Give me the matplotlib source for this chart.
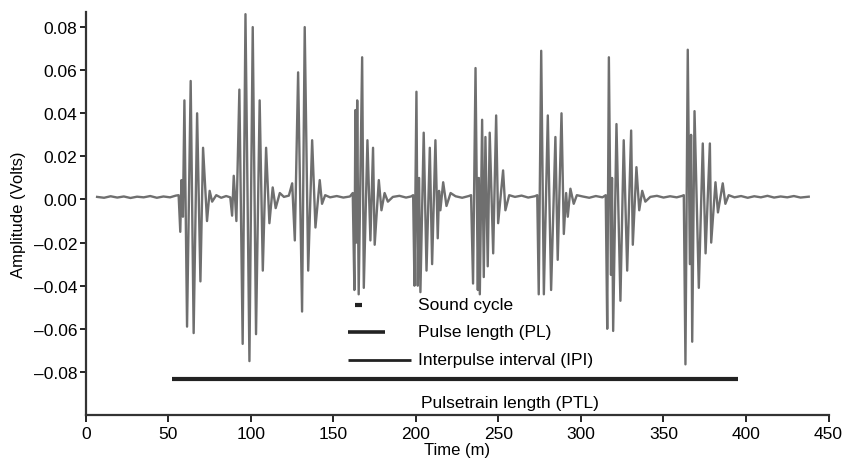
import matplotlib
matplotlib.use("Agg")
import matplotlib.pyplot as plt
from matplotlib.ticker import FuncFormatter

# extrema of each pulse: time (m), amplitude (V)
p1_t = [56.2, 57.2, 57.9, 58.8, 59.7, 61.3, 63.5, 65.3, 67.4, 69.4, 71.0, 73.4, 75.0, 76.5]
p1_v = [0.002, -0.015, 0.009, -0.008, 0.046, -0.059, 0.055, -0.062, 0.040, -0.038, 0.024, -0.010, 0.004, -0.001]

p2_t = [88.6, 89.6, 91.2, 93.0, 95.0, 96.7, 99.1, 101.1, 103.1, 105.3, 107.2, 109.2, 111.2, 113.2, 115.0, 117.5]
p2_v = [-0.0075, 0.011, -0.010, 0.051, -0.067, 0.086, -0.075, 0.080, -0.0625, 0.046, -0.033, 0.024, -0.011, 0.0056, -0.004, 0.003]

p3_t = [125.0, 126.6, 128.6, 131.0, 132.6, 134.7, 137.1, 139.1, 141.7, 143.1, 145.0]
p3_v = [0.0075, -0.019, 0.059, -0.052, 0.080, -0.033, 0.0275, -0.013, 0.009, -0.002, 0.002]

p4_t = [161.7, 162.7, 163.3, 163.9, 164.4, 165.3, 167.4, 168.4, 170.6, 172.4, 174.0, 175.0, 177.5, 179.1, 181.0, 183.0]
p4_v = [0.003, -0.042, 0.0415, -0.020, 0.046, -0.044, 0.066, -0.041, 0.0275, -0.019, 0.024, -0.021, 0.009, -0.005, 0.003, -0.001]

p5_t = [198.3, 199.1, 200.3, 201.1, 201.9, 202.7, 204.7, 206.4, 208.4, 209.8, 211.8, 213.2, 214.0, 214.8, 216.5, 218.5, 221.0]
p5_v = [0.002, -0.040, 0.050, -0.040, 0.010, -0.043, 0.031, -0.033, 0.024, -0.030, 0.0275, -0.018, 0.004, -0.005, 0.008, -0.003, 0.003]

p6_t = [233.4, 234.6, 236.1, 237.5, 238.1, 238.7, 240.1, 241.1, 242.1, 243.5, 244.7, 246.8, 248.6, 249.8, 252.8, 254.2, 256.5]
p6_v = [0.002, -0.039, 0.061, -0.042, 0.010, -0.044, 0.037, -0.036, 0.029, -0.031, 0.031, -0.025, 0.039, -0.011, 0.0135, -0.005, 0.002]

p7_t = [273.5, 274.4, 275.9, 277.5, 279.9, 281.9, 284.5, 285.9, 288.2, 289.6, 291.0, 292.0, 293.6, 295.6, 297.5]
p7_v = [0.002, -0.044, 0.069, -0.044, 0.039, -0.042, 0.029, -0.028, 0.040, -0.016, 0.003, -0.008, 0.005, -0.002, 0.002]

p8_t = [315.0, 315.9, 316.9, 318.2, 318.8, 319.5, 321.5, 323.9, 325.9, 328.0, 330.4, 331.4, 333.6, 335.3, 337.1, 339.0]
p8_v = [0.002, -0.060, 0.066, -0.035, 0.010, -0.061, 0.035, -0.047, 0.0275, -0.033, 0.032, -0.021, 0.015, -0.005, 0.004, -0.001]

p9_t = [362.3, 363.3, 364.7, 366.0, 366.7, 367.4, 368.8, 371.4, 373.8, 375.5, 378.1, 378.9, 381.5, 383.0, 385.9, 387.5, 389.5]
p9_v = [0.002, -0.0765, 0.0695, -0.030, 0.030, -0.066, 0.041, -0.041, 0.026, -0.025, 0.026, -0.020, 0.008, -0.006, 0.0075, -0.002, 0.002]

# quiet stretches between the pulses
quiet_t = [6.8, 11, 15, 19, 23, 27, 31, 35, 39, 43, 47, 51, 54.5,
           79, 82, 85, 87.5, 120, 123, 148, 152, 156, 160,
           186, 190, 194, 197, 224, 228, 232, 260, 264, 268, 272,
           301, 305, 309, 313, 342, 346, 350, 354, 358, 361,
           393, 397, 401, 405, 409, 413, 417, 421, 425, 429, 433, 438]
quiet_v = [0.0012, 0.0008, 0.0015, 0.0009, 0.0014, 0.0007, 0.0013, 0.0010, 0.0016, 0.0008, 0.0014, 0.0010, 0.0018,
           0.0020, 0.0008, 0.0016, 0.0010, 0.0012, 0.0018, 0.0010, 0.0016, 0.0009, 0.0014,
           0.0012, 0.0017, 0.0009, 0.0014, 0.0015, 0.0008, 0.0016, 0.0012, 0.0018, 0.0009, 0.0015,
           0.0014, 0.0008, 0.0016, 0.0010, 0.0012, 0.0017, 0.0009, 0.0015, 0.0010, 0.0016,
           0.0010, 0.0016, 0.0008, 0.0015, 0.0010, 0.0017, 0.0009, 0.0014, 0.0010, 0.0016, 0.0009, 0.0013]

# annotation bars
bar_labels = ["Sound cycle", "Pulse length (PL)", "Interpulse interval (IPI)", "Pulsetrain length (PTL)"]
bar_start = [163.3, 159.0, 159.0, 52.0]
bar_end = [167.6, 181.5, 196.7, 395.0]
bar_level = [-0.0488, -0.0613, -0.0743, -0.0831]

pairs = []
for tt, vv in [(p1_t, p1_v), (p2_t, p2_v), (p3_t, p3_v), (p4_t, p4_v), (p5_t, p5_v),
               (p6_t, p6_v), (p7_t, p7_v), (p8_t, p8_v), (p9_t, p9_v), (quiet_t, quiet_v)]:
    pairs += list(zip(tt, vv))
pairs.sort()
t = [p[0] for p in pairs]
v = [p[1] for p in pairs]

plt.rcParams["font.family"] = ["Liberation Sans", "DejaVu Sans"]
fig = plt.figure(figsize=(8.42, 4.6), dpi=100)
ax = fig.add_axes([0.102, 0.0957, 0.882, 0.876])

ax.plot(t, v, color="#6f6f6f", lw=1.7)

bar_widths = [3.0, 2.6, 2.0, 3.0]
for i in range(4):
    ax.plot([bar_start[i], bar_end[i]], [bar_level[i]] * 2, color="#222222",
            lw=bar_widths[i], solid_capstyle="butt")
for i in range(3):
    ax.text(201.5, bar_level[i], bar_labels[i], fontsize=12.5, va="center", ha="left")
ax.text(257, -0.0942, bar_labels[3], fontsize=12.5, va="center", ha="center")

ax.set_xlim(0, 450)
ax.set_ylim(-0.10, 0.087)
ax.set_xticks(range(0, 451, 50))
ax.set_yticks([-0.08, -0.06, -0.04, -0.02, 0.0, 0.02, 0.04, 0.06, 0.08])
ax.yaxis.set_major_formatter(FuncFormatter(lambda y, pos: ("%.2f" % y).replace("-", "\u2013")))
ax.tick_params(axis="x", labelsize=12.5, length=5, width=1.2, pad=3)
ax.tick_params(axis="y", labelsize=12.5, length=4, width=1.2, pad=2)
for s in ["top", "right"]:
    ax.spines[s].set_visible(False)
for s in ["left", "bottom"]:
    ax.spines[s].set_linewidth(1.6)
    ax.spines[s].set_color("#333333")

ax.set_xlabel("Time (m)", fontsize=12, labelpad=1)
ax.set_ylabel("Amplitude (Volts)", fontsize=12, labelpad=6)

fig.savefig("out.png", dpi=100)
